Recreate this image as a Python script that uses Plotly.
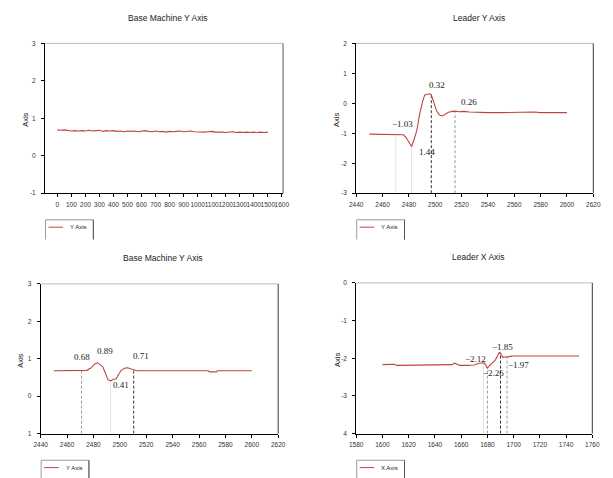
import plotly.graph_objects as go

W, H = 613, 478

# ---------------- data ----------------
# Panel 1: Base Machine Y Axis (long run)
p1_x = list(range(0, 1501, 25))
p1_y = [0.69, 0.68, 0.69, 0.67, 0.66, 0.67, 0.66, 0.67, 0.66, 0.68, 0.66, 0.67, 0.68, 0.65, 0.67, 0.66,
        0.67, 0.65, 0.66, 0.64, 0.66, 0.65, 0.66, 0.64, 0.66, 0.67, 0.65, 0.64, 0.66, 0.64, 0.65, 0.63,
        0.65, 0.64, 0.65, 0.66, 0.64, 0.65, 0.66, 0.64, 0.63, 0.64, 0.63, 0.64, 0.65, 0.63, 0.64, 0.63,
        0.62, 0.63, 0.64, 0.62, 0.63, 0.62, 0.63, 0.62, 0.63, 0.62, 0.63, 0.62, 0.63]

# Panel 2: Leader Y Axis
p2_x = [2450, 2460, 2470, 2476, 2478, 2480, 2482, 2484, 2486, 2488, 2490, 2492, 2494, 2496, 2497, 2499,
        2501, 2503, 2505, 2507, 2510, 2513, 2515, 2518, 2522, 2526, 2530, 2540, 2550, 2560, 2565, 2570,
        2575, 2580, 2590, 2600]
p2_y = [-1.03, -1.03, -1.03, -1.05, -1.15, -1.30, -1.44, -1.20, -0.90, -0.40, 0.00, 0.28, 0.30, 0.32,
        0.28, 0.00, -0.25, -0.38, -0.42, -0.38, -0.30, -0.27, -0.26, -0.28, -0.27, -0.29, -0.30, -0.31,
        -0.31, -0.30, -0.29, -0.27, -0.29, -0.31, -0.31, -0.31]

# Panel 3: Base Machine Y Axis (zoomed)
p3_x = [2450, 2460, 2470, 2475, 2478, 2481, 2483, 2485, 2487, 2489, 2491, 2493, 2495, 2497, 2499, 2501,
        2504, 2506, 2508, 2510, 2513, 2520, 2540, 2560, 2567, 2568, 2573, 2574, 2580, 2590, 2600]
p3_y = [0.68, 0.68, 0.68, 0.69, 0.75, 0.86, 0.89, 0.83, 0.79, 0.62, 0.44, 0.41, 0.45, 0.46, 0.58, 0.69,
        0.75, 0.76, 0.73, 0.71, 0.68, 0.68, 0.68, 0.68, 0.68, 0.65, 0.65, 0.68, 0.68, 0.68, 0.68]

# Panel 4: Leader X Axis
p4_x = [1600, 1605, 1609, 1611, 1620, 1630, 1640, 1650, 1653, 1655, 1657, 1659, 1665, 1668, 1670, 1673,
        1677, 1678, 1680, 1682, 1684, 1686, 1688, 1689, 1690, 1692, 1694, 1695, 1697, 1700, 1720, 1740, 1750]
p4_y = [-2.17, -2.16, -2.16, -2.19, -2.19, -2.19, -2.19, -2.19, -2.17, -2.13, -2.15, -2.19, -2.19, -2.18,
        -2.18, -2.14, -2.12, -2.14, -2.26, -2.18, -2.10, -2.05, -1.92, -1.85, -1.87, -1.98, -1.96, -1.97,
        -1.95, -1.94, -1.94, -1.94, -1.94]

# marker (drop) lines: x, top value, style
p2_vx = [2470, 2482, 2497, 2515]
p2_vtop = [-1.03, -1.44, 0.30, -0.26]
p2_vsty = ["faint", "faint", "dark", "gray"]
p3_vx = [2471, 2493, 2510.5]
p3_vtop = [0.68, 0.41, 0.71]
p3_vsty = ["gray", "faint", "dark"]
p4_vx = [1677, 1680, 1690, 1695]
p4_vtop = [-2.12, -2.26, -1.85, -1.97]
p4_vsty = ["faint", "gray", "dark", "gray"]

# value labels
p2_lab = ["−1.03", "0.32", "0.26", "1.44"]
p2_lx = [2475, 2501, 2526, 2494]
p2_ly = [-0.70, 0.62, 0.03, -1.62]
p3_lab = ["0.68", "0.89", "0.41", "0.71"]
p3_lx = [2471, 2488.6, 2501, 2515.7]
p3_ly = [1.05, 1.21, 0.30, 1.08]
p4_lab = ["−1.85", "−2.12", "−2.26", "−1.97"]
p4_lx = [1691.5, 1671, 1684.8, 1703.4]
p4_ly = [-1.71, -2.01, -2.39, -2.18]

titles = ["Base Machine Y Axis", "Leader Y Axis", "Base Machine Y Axis", "Leader X Axis"]
legend_names = ["Y Axis", "Y Axis", "Y Axis", "X Axis"]

p1_yticks = [-1, 0, 1, 2, 3]
p2_yticks = [-3, -2, -1, 0, 1, 2]
p3_yticks = [-1, 0, 1, 2, 3]
p3_yticktext = ["1", "0", "1", "2", "3"]
p4_yticks = [-4, -3, -2, -1, 0]
p4_yticktext = ["4", "-3", "-2", "-1", "0"]

LINE_COLOR = "#c0433f"
STY = {"dark": dict(color="#333333", dash="3px,2px", width=1),
       "gray": dict(color="#9a9a9a", dash="3px,2px", width=1),
       "faint": dict(color="#e4e4e4", dash="solid", width=1)}

# ---------------- layout geometry (pixels) ----------------
def fx(px):
    return px / W

def fy(py):
    return 1 - py / H

panels = [
    dict(x0=39, x1=283, y0=40, y1=192, xr=[-88, 1609], yr=[-1, 3], dt=100),
    dict(x0=358, x1=601, y0=40, y1=192, xr=[2440, 2620], yr=[-3, 2], dt=20),
    dict(x0=34.5, x1=278, y0=284, y1=436, xr=[2440, 2620], yr=[-1, 3], dt=20),
    dict(x0=358, x1=600, y0=283, y1=436, xr=[1580, 1760], yr=[-4, 0], dt=20),
]

fig = go.Figure()

series = [(p1_x, p1_y), (p2_x, p2_y), (p3_x, p3_y), (p4_x, p4_y)]
vlines = [([], [], []), (p2_vx, p2_vtop, p2_vsty), (p3_vx, p3_vtop, p3_vsty), (p4_vx, p4_vtop, p4_vsty)]
labels = [([], [], []), (p2_lab, p2_lx, p2_ly), (p3_lab, p3_lx, p3_ly), (p4_lab, p4_lx, p4_ly)]
yticks = [(p1_yticks, None), (p2_yticks, None), (p3_yticks, p3_yticktext), (p4_yticks, p4_yticktext)]

tick_font = dict(family="Liberation Sans, Arial, sans-serif", size=6.5, color="#333333")
SANS = "Liberation Sans, Arial, sans-serif"

for i, p in enumerate(panels):
    n = "" if i == 0 else str(i + 1)
    xa, ya = "x" + n, "y" + n
    # drop lines
    vx, vt, vs = vlines[i]
    for k in range(len(vx)):
        fig.add_trace(go.Scatter(x=[vx[k], vx[k]], y=[p["yr"][0], vt[k]], mode="lines",
                                 line=STY[vs[k]], xaxis=xa, yaxis=ya, hoverinfo="skip"))
    sx, sy = series[i]
    fig.add_trace(go.Scatter(x=sx, y=sy, mode="lines", line=dict(color=LINE_COLOR, width=1.1),
                             xaxis=xa, yaxis=ya, name=legend_names[i]))
    lab, lx, ly = labels[i]
    for k in range(len(lab)):
        fig.add_annotation(x=lx[k], y=ly[k], xref=xa, yref=ya, text=lab[k], showarrow=False,
                           xanchor="center", yanchor="middle",
                           font=dict(family="Liberation Serif, Times New Roman, serif", size=9, color="#222222"))

    xkey = "xaxis" + n
    ykey = "yaxis" + n
    tv, tt = yticks[i]
    fig.update_layout(**{
        xkey: dict(domain=[fx(p["x0"]), fx(p["x1"])], range=p["xr"], anchor=ya,
                   tickmode="linear", tick0=p["xr"][0] if i else 0, dtick=p["dt"], tickangle=0,
                   showline=True, linecolor="#000000", linewidth=1, ticks="outside", ticklen=3,
                   tickcolor="#000000", tickwidth=1, showgrid=False, zeroline=False,
                   tickfont=tick_font, ticklabelstandoff=2),
        ykey: dict(domain=[fy(p["y1"]), fy(p["y0"])], range=p["yr"], anchor=xa,
                   tickmode="array", tickvals=tv, ticktext=tt if tt else [str(v) for v in tv],
                   showline=True, linecolor="#000000", linewidth=1, ticks="outside", ticklen=3,
                   tickcolor="#000000", tickwidth=1, showgrid=False, zeroline=False,
                   tickfont=tick_font, ticklabelstandoff=4),
    })
    # top (light) and right (dark) frame lines
    fig.add_shape(type="line", xref=xa + " domain", yref=ya + " domain", x0=0, x1=1, y0=1, y1=1,
                  line=dict(color="#bdbdbd", width=1))
    fig.add_shape(type="line", xref=xa + " domain", yref=ya + " domain", x0=1, x1=1, y0=0, y1=1,
                  line=dict(color="#3a3a3a" if i else "#555555", width=1))

    # title
    cx = (p["x0"] + p["x1"]) / 2 + 4
    ty = p["y0"] - 26
    fig.add_annotation(x=fx(cx), y=fy(ty), xref="paper", yref="paper", text=titles[i], showarrow=False,
                       xanchor="center", yanchor="middle",
                       font=dict(family=SANS, size=8.5, color="#222222"))
    # y axis title
    fig.add_annotation(x=fx(p["x0"] - 20), y=fy((p["y0"] + p["y1"]) / 2 + 2), xref="paper", yref="paper",
                       text="Axis", textangle=-90, showarrow=False, xanchor="center", yanchor="middle",
                       font=dict(family=SANS, size=7.5, color="#222222"))
    # legend box (open at bottom)
    lx0 = p["x0"] + 0.5
    lx1 = lx0 + 49
    ly0 = p["y1"] + 27
    ly1 = ly0 + 20
    fig.add_shape(type="path", xref="paper", yref="paper",
                  path=f"M {fx(lx0)} {fy(ly1)} L {fx(lx0)} {fy(ly0)} L {fx(lx1)} {fy(ly0)} L {fx(lx1)} {fy(ly1)}",
                  line=dict(color="#9a9a9a", width=1))
    fig.add_shape(type="line", xref="paper", yref="paper", x0=fx(lx1), x1=fx(lx1), y0=fy(ly0), y1=fy(ly1),
                  line=dict(color="#555555", width=1))
    fig.add_shape(type="line", xref="paper", yref="paper", x0=fx(lx0 + 3), x1=fx(lx0 + 18),
                  y0=fy(ly0 + 7.5), y1=fy(ly0 + 7.5), line=dict(color=LINE_COLOR, width=1))
    fig.add_annotation(x=fx(lx0 + 23), y=fy(ly0 + 7.5), xref="paper", yref="paper",
                       xanchor="left", yanchor="middle",
                       text=legend_names[i], showarrow=False,
                       font=dict(family=SANS, size=6, color="#222222"))

fig.update_layout(width=W, height=H, margin=dict(l=0, r=0, t=0, b=0), showlegend=False,
                  paper_bgcolor="#ffffff", plot_bgcolor="#ffffff")

fig.write_html("out.html", config={"displayModeBar": False},
               post_script="document.body.style.margin='0';document.body.style.overflow='hidden';")
